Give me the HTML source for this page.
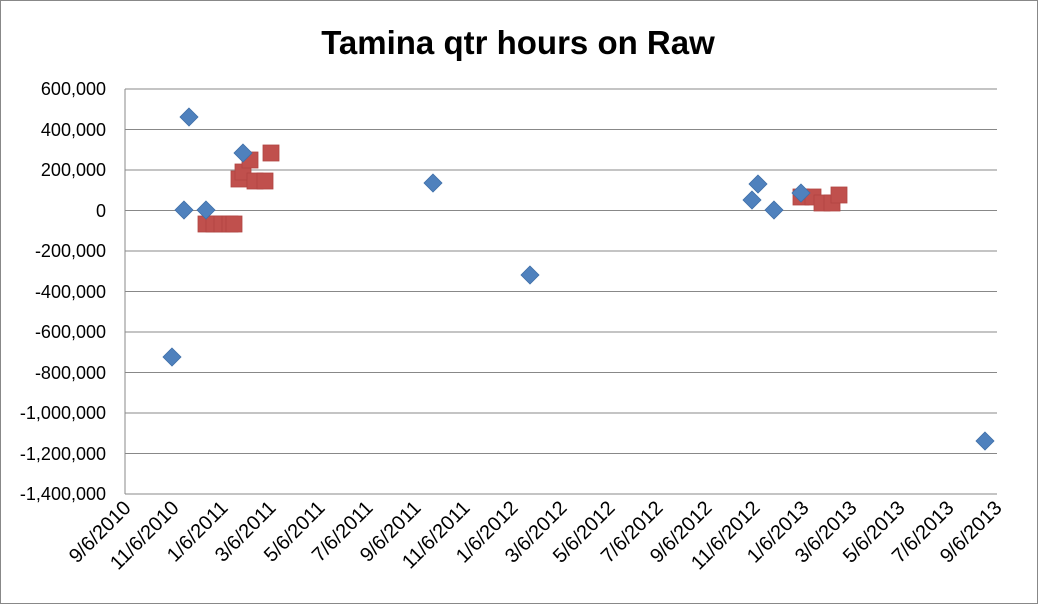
<!DOCTYPE html>
<html><head><style>
body{margin:0;background:#fff;}
svg{display:block;font-family:"Liberation Sans",Calibri,sans-serif;}
</style></head><body>
<svg width="1038" height="604" viewBox="0 0 1038 604" xmlns="http://www.w3.org/2000/svg">
<rect x="0.5" y="0.5" width="1037" height="603" fill="#fff" stroke="#888"/>
<text x="518" y="54" text-anchor="middle" font-size="33" font-weight="bold">Tamina qtr hours on Raw</text>
<g stroke="#888" stroke-width="1">
<line x1="125" y1="89" x2="997" y2="89"/><line x1="125" y1="129.5" x2="997" y2="129.5"/>
<line x1="125" y1="170" x2="997" y2="170"/><line x1="125" y1="210.5" x2="997" y2="210.5"/>
<line x1="125" y1="251" x2="997" y2="251"/><line x1="125" y1="291.5" x2="997" y2="291.5"/>
<line x1="125" y1="332" x2="997" y2="332"/><line x1="125" y1="372.5" x2="997" y2="372.5"/>
<line x1="125" y1="413" x2="997" y2="413"/><line x1="125" y1="453.5" x2="997" y2="453.5"/>
<line x1="125" y1="494" x2="997" y2="494"/>
<line x1="125" y1="89" x2="125" y2="494"/>
</g>
<g font-size="18" text-anchor="end">
<text x="106" y="95">600,000</text><text x="106" y="136">400,000</text>
<text x="106" y="176">200,000</text><text x="106" y="217">0</text>
<text x="106" y="257">-200,000</text><text x="106" y="298">-400,000</text>
<text x="106" y="338">-600,000</text><text x="106" y="379">-800,000</text>
<text x="106" y="419">-1,000,000</text><text x="106" y="460">-1,200,000</text>
<text x="106" y="500">-1,400,000</text>
</g>
<g font-size="20" text-anchor="end">
<text transform="translate(132,509) rotate(-45)">9/6/2010</text>
<text transform="translate(180,509) rotate(-45)">11/6/2010</text>
<text transform="translate(229,509) rotate(-45)">1/6/2011</text>
<text transform="translate(277,509) rotate(-45)">3/6/2011</text>
<text transform="translate(326,509) rotate(-45)">5/6/2011</text>
<text transform="translate(374,509) rotate(-45)">7/6/2011</text>
<text transform="translate(422,509) rotate(-45)">9/6/2011</text>
<text transform="translate(471,509) rotate(-45)">11/6/2011</text>
<text transform="translate(519,509) rotate(-45)">1/6/2012</text>
<text transform="translate(568,509) rotate(-45)">3/6/2012</text>
<text transform="translate(616,509) rotate(-45)">5/6/2012</text>
<text transform="translate(664,509) rotate(-45)">7/6/2012</text>
<text transform="translate(713,509) rotate(-45)">9/6/2012</text>
<text transform="translate(761,509) rotate(-45)">11/6/2012</text>
<text transform="translate(810,509) rotate(-45)">1/6/2013</text>
<text transform="translate(858,509) rotate(-45)">3/6/2013</text>
<text transform="translate(906,509) rotate(-45)">5/6/2013</text>
<text transform="translate(955,509) rotate(-45)">7/6/2013</text>
<text transform="translate(1003,509) rotate(-45)">9/6/2013</text>
</g>
<g fill="#c0504d" stroke="#b04441" stroke-width="0.8">
<rect x="198" y="216" width="16" height="16"/><rect x="206" y="216" width="16" height="16"/>
<rect x="214" y="216" width="16" height="16"/><rect x="222" y="216" width="16" height="16"/>
<rect x="226" y="216" width="16" height="16"/>
<rect x="231" y="171" width="16" height="16"/><rect x="235" y="164" width="16" height="16"/>
<rect x="242" y="152" width="16" height="16"/>
<rect x="247" y="173" width="16" height="16"/><rect x="257" y="173" width="16" height="16"/>
<rect x="263" y="145" width="16" height="16"/>
<rect x="793" y="189" width="16" height="16"/><rect x="805" y="189" width="16" height="16"/>
<rect x="814" y="195" width="16" height="16"/><rect x="824" y="195" width="16" height="16"/>
<rect x="831" y="187" width="16" height="16"/>
</g>
<g fill="#4f81bd" stroke="#3f6fa8" stroke-width="0.8">
<path d="M172 348l9 9-9 9-9-9z"/>
<path d="M184 201l9 9-9 9-9-9z"/>
<path d="M189 108l9 9-9 9-9-9z"/>
<path d="M206 201l9 9-9 9-9-9z"/>
<path d="M243 144l9 9-9 9-9-9z"/>
<path d="M433 174l9 9-9 9-9-9z"/>
<path d="M530 266l9 9-9 9-9-9z"/>
<path d="M752 191l9 9-9 9-9-9z"/>
<path d="M758 175l9 9-9 9-9-9z"/>
<path d="M774 201l9 9-9 9-9-9z"/>
<path d="M801 184l9 9-9 9-9-9z"/>
<path d="M985 432l9 9-9 9-9-9z"/>
</g>
</svg>
</body></html>
